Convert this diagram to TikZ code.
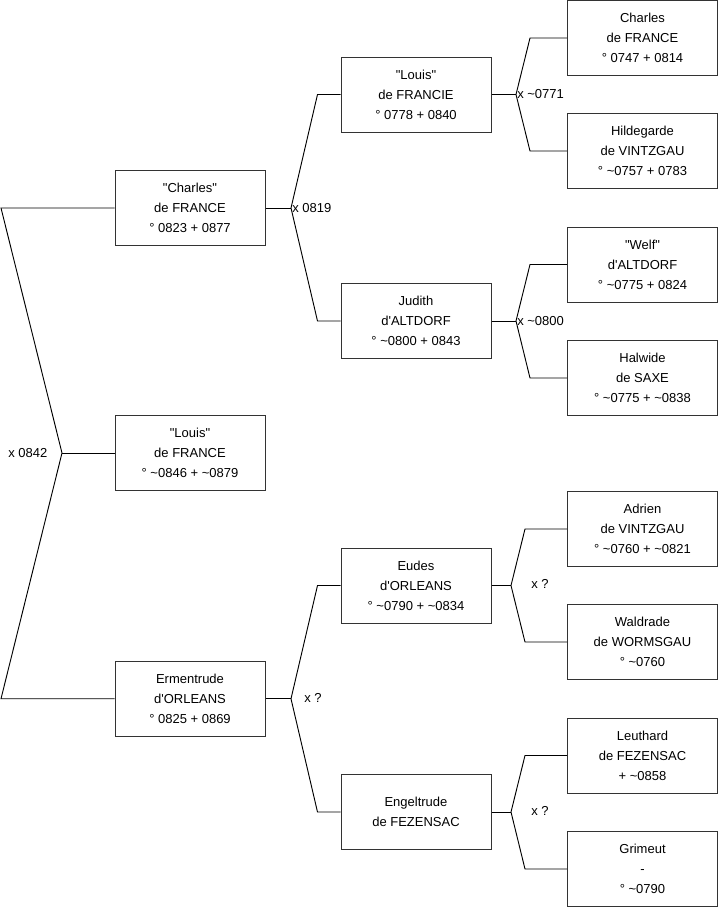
\documentclass[tikz,border=0pt]{standalone}
\usepackage{fontspec}
\newfontfamily\boxfont{Liberation Sans}
\newcommand{\circa}{\textasciitilde}

\begin{document}
\begin{tikzpicture}[x=0.75pt,y=-0.75pt,font=\boxfont\fontsize{9.75}{15}\selectfont,
  person/.style={draw=black!80,line width=0.75pt,align=center,minimum width=112.5pt,minimum height=56.25pt,inner sep=0pt},
  wed/.style={inner sep=0pt,anchor=west},
  link/.style={draw=black,line width=0.7pt}]
  \useasboundingbox (0,0) rectangle (719,908);
  % children
  \node[person] (charles) at (190,208) {"Charles"\\de FRANCE\\° 0823 + 0877};
  \node[person] (louis) at (190,453) {"Louis"\\de FRANCE\\° \circa0846 + \circa0879};
  \node[person] (ermentrude) at (190,698.75) {Ermentrude\\d'ORLEANS\\° 0825 + 0869};
  % parents
  \node[person] (louisF) at (416,94.5) {"Louis"\\de FRANCIE\\° 0778 + 0840};
  \node[person] (judith) at (416,321) {Judith\\d'ALTDORF\\° \circa0800 + 0843};
  \node[person] (eudes) at (416,585.5) {Eudes\\d'ORLEANS\\° \circa0790 + \circa0834};
  \node[person] (engeltrude) at (416,812) {Engeltrude\\de FEZENSAC};
  % grandparents
  \node[person] (charlesM) at (642.5,38) {Charles\\de FRANCE\\° 0747 + 0814};
  \node[person] (hildegarde) at (642.5,151) {Hildegarde\\de VINTZGAU\\° \circa0757 + 0783};
  \node[person] (welf) at (642.5,264.5) {"Welf"\\d'ALTDORF\\° \circa0775 + 0824};
  \node[person] (halwide) at (642.5,378) {Halwide\\de SAXE\\° \circa0775 + \circa0838};
  \node[person] (adrien) at (642.5,529) {Adrien\\de VINTZGAU\\° \circa0760 + \circa0821};
  \node[person] (waldrade) at (642.5,642) {Waldrade\\de WORMSGAU\\° \circa0760};
  \node[person] (leuthard) at (642.5,755.5) {Leuthard\\de FEZENSAC\\+ \circa0858};
  \node[person] (grimeut) at (642.5,869) {Grimeut\\-\\° \circa0790};

  % siblings
  \coordinate (rt) at (1,208);
  \coordinate (r0) at (62,453);
  \coordinate (rb) at (1,698.75);
  \draw[link] (charles.west) -- (rt) -- (r0) -- (rb) -- (ermentrude.west);
  \draw[link] (r0) -- (louis.west);
  \node[wed] (w0) at (8,453) {x 0842};

  % couples
  \coordinate (m1) at (291,208);
  \draw[link] (charles.east) -- (m1);
  \draw[link] (louisF.west) -- ++(-23,0) -- (m1);
  \draw[link] (judith.west) -- ++(-23,0) -- (m1);
  \node[wed] (w1) at (292,208) {x 0819};

  \coordinate (m6) at (291,698.75);
  \draw[link] (ermentrude.east) -- (m6);
  \draw[link] (eudes.west) -- ++(-23,0) -- (m6);
  \draw[link] (engeltrude.west) -- ++(-23,0) -- (m6);
  \node[wed] (w6) at (304,698) {x ?};

  \coordinate (m2) at (516,94.5);
  \draw[link] (louisF.east) -- (m2);
  \draw[link] (charlesM.west) -- ++(-37,0) -- (m2);
  \draw[link] (hildegarde.west) -- ++(-37,0) -- (m2);
  \node[wed] (w2) at (517,94.5) {x \circa0771};

  \coordinate (m3) at (516,321);
  \draw[link] (judith.east) -- (m3);
  \draw[link] (welf.west) -- ++(-37,0) -- (m3);
  \draw[link] (halwide.west) -- ++(-37,0) -- (m3);
  \node[wed] (w3) at (517,321) {x \circa0800};

  \coordinate (m4) at (511,585.5);
  \draw[link] (eudes.east) -- (m4);
  \draw[link] (adrien.west) -- ++(-42,0) -- (m4);
  \draw[link] (waldrade.west) -- ++(-42,0) -- (m4);
  \node[wed] (w4) at (531,584) {x ?};

  \coordinate (m5) at (511,812);
  \draw[link] (engeltrude.east) -- (m5);
  \draw[link] (leuthard.west) -- ++(-42,0) -- (m5);
  \draw[link] (grimeut.west) -- ++(-42,0) -- (m5);
  \node[wed] (w5) at (531,811) {x ?};
\end{tikzpicture}
\end{document}
